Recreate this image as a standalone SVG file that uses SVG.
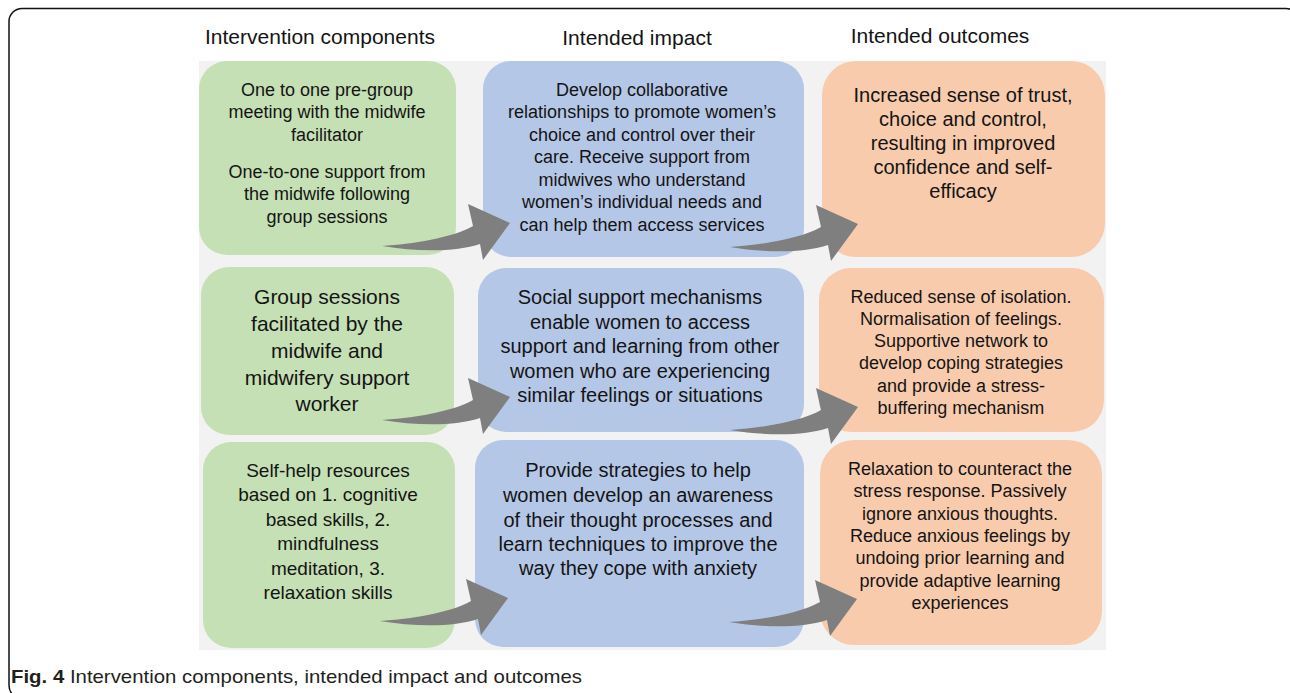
<svg xmlns="http://www.w3.org/2000/svg" width="1290" height="693" viewBox="0 0 1290 693">
<style>
.t{font-family:"Liberation Sans",Arial,sans-serif;fill:#141414;text-anchor:middle}
.h{font-size:21px}
.s18{font-size:18px}
.s19{font-size:19px}
.s20{font-size:20px}
.s21{font-size:21px}
.g{fill:#c5e0b4}
.b{fill:#b4c7e7}
.o{fill:#f8cbad}
.arr{fill:#7f7f7f}
.cap{font-family:"Liberation Sans",Arial,sans-serif;font-size:19px;fill:#231f20}
</style>
<defs>
<path id="arrow" d="M0,0 C30,-2 70,-8 91,-20 L86,-42 L128,-23 L101,14 L98,-2 C75,6 35,6 0,0 Z"/>
</defs>
<rect width="1290" height="693" fill="#fff"/>
<rect x="9" y="8.5" width="1290" height="690" rx="13" fill="none" stroke="#111" stroke-width="1.5"/>
<rect x="199" y="61" width="907" height="589" fill="#f2f2f2"/>
<g id="headers">
<text class="t h" x="320" y="44">Intervention components</text>
<text class="t h" x="637" y="45">Intended impact</text>
<text class="t h" x="940" y="43">Intended outcomes</text>
</g>
<g id="comp1">
<rect class="g" x="199" y="61" width="257" height="194" rx="28"/>
<text class="t s18"><tspan x="327" y="96">One to one pre-group</tspan><tspan x="327" y="118">meeting with the midwife</tspan><tspan x="327" y="141">facilitator</tspan><tspan x="327" y="178">One-to-one support from</tspan><tspan x="327" y="200">the midwife following</tspan><tspan x="327" y="223">group sessions</tspan></text>
</g>
<g id="comp2">
<rect class="g" x="201" y="267" width="253" height="168" rx="28"/>
<text class="t s21"><tspan x="327" y="304">Group sessions</tspan><tspan x="327" y="331">facilitated by the</tspan><tspan x="327" y="358">midwife and</tspan><tspan x="327" y="385">midwifery support</tspan><tspan x="327" y="411">worker</tspan></text>
</g>
<g id="comp3">
<rect class="g" x="203" y="442" width="252" height="206" rx="28"/>
<text class="t s19"><tspan x="328" y="477">Self-help resources</tspan><tspan x="328" y="501">based on 1. cognitive</tspan><tspan x="328" y="526">based skills, 2.</tspan><tspan x="328" y="550">mindfulness</tspan><tspan x="328" y="575">meditation, 3.</tspan><tspan x="328" y="599">relaxation skills</tspan></text>
</g>
<g id="impact1">
<rect class="b" x="483" y="61" width="321" height="196" rx="28"/>
<text class="t s18"><tspan x="642" y="96">Develop collaborative</tspan><tspan x="642" y="118">relationships to promote women’s</tspan><tspan x="642" y="141">choice and control over their</tspan><tspan x="642" y="163">care. Receive support from</tspan><tspan x="642" y="186">midwives who understand</tspan><tspan x="642" y="208">women’s individual needs and</tspan><tspan x="642" y="231">can help them access services</tspan></text>
</g>
<g id="impact2">
<rect class="b" x="478" y="268" width="326" height="164" rx="28"/>
<text class="t s20"><tspan x="640" y="304">Social support mechanisms</tspan><tspan x="640" y="329">enable women to access</tspan><tspan x="640" y="353">support and learning from other</tspan><tspan x="640" y="378">women who are experiencing</tspan><tspan x="640" y="402">similar feelings or situations</tspan></text>
</g>
<g id="impact3">
<rect class="b" x="475" y="440" width="329" height="207" rx="28"/>
<text class="t s20"><tspan x="638" y="477">Provide strategies to help</tspan><tspan x="638" y="502">women develop an awareness</tspan><tspan x="638" y="527">of their thought processes and</tspan><tspan x="638" y="551">learn techniques to improve the</tspan><tspan x="638" y="575">way they cope with anxiety</tspan></text>
</g>
<g id="outcome1">
<rect class="o" x="822" y="61" width="283" height="196" rx="34"/>
<text class="t s20"><tspan x="963" y="102">Increased sense of trust,</tspan><tspan x="963" y="126">choice and control,</tspan><tspan x="963" y="150">resulting in improved</tspan><tspan x="963" y="174">confidence and self-</tspan><tspan x="963" y="198">efficacy</tspan></text>
</g>
<g id="outcome2">
<rect class="o" x="819" y="268" width="285" height="164" rx="32"/>
<text class="t s18"><tspan x="961" y="303">Reduced sense of isolation.</tspan><tspan x="961" y="325">Normalisation of feelings.</tspan><tspan x="961" y="347">Supportive network to</tspan><tspan x="961" y="369">develop coping strategies</tspan><tspan x="961" y="392">and provide a stress-</tspan><tspan x="961" y="414">buffering mechanism</tspan></text>
</g>
<g id="outcome3">
<rect class="o" x="820" y="440" width="282" height="205" rx="34"/>
<text class="t s18"><tspan x="960" y="475">Relaxation to counteract the</tspan><tspan x="960" y="497">stress response. Passively</tspan><tspan x="960" y="520">ignore anxious thoughts.</tspan><tspan x="960" y="542">Reduce anxious feelings by</tspan><tspan x="960" y="564">undoing prior learning and</tspan><tspan x="960" y="587">provide adaptive learning</tspan><tspan x="960" y="609">experiences</tspan></text>
</g>
<g id="connectors">
<use href="#arrow" class="arr" transform="translate(382,246)"/>
<use href="#arrow" class="arr" transform="translate(382,420)"/>
<use href="#arrow" class="arr" transform="translate(380,621)"/>
<use href="#arrow" class="arr" transform="translate(730,247)"/>
<use href="#arrow" class="arr" transform="translate(730,430)"/>
<use href="#arrow" class="arr" transform="translate(729,622)"/>
</g>
<g id="caption">
<text class="cap" x="11" y="683" textLength="571" lengthAdjust="spacingAndGlyphs"><tspan font-weight="bold">Fig. 4</tspan> Intervention components, intended impact and outcomes</text>
</g>
</svg>
